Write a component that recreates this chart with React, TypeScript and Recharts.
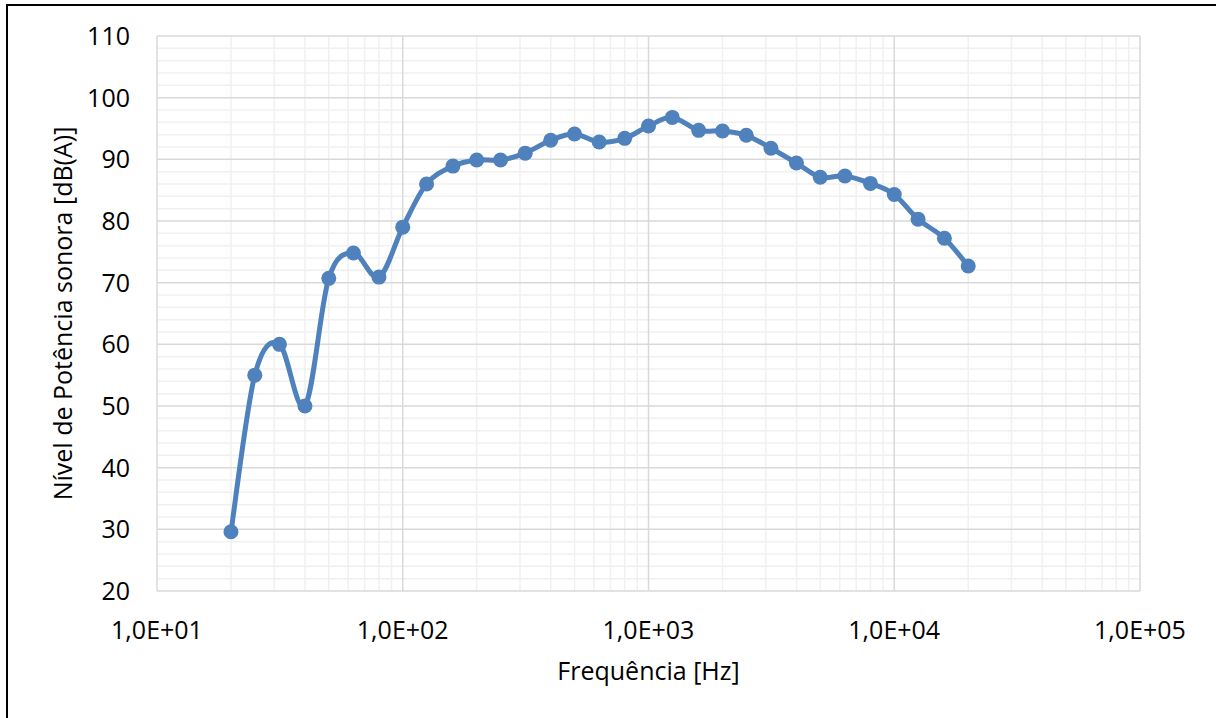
import React from 'react';
import { LineChart, Line, XAxis, YAxis, ReferenceLine } from 'recharts';

const freqs = [20, 25, 31.5, 40, 50, 63, 80, 100, 125, 160, 200, 250, 315, 400, 500, 630, 800, 1000, 1250, 1600, 2000, 2500, 3150, 4000, 5000, 6300, 8000, 10000, 12500, 16000, 20000];
const levels = [29.6, 55.0, 60.0, 50.0, 70.7, 74.8, 70.9, 79.0, 86.0, 88.9, 89.9, 89.9, 91.0, 93.1, 94.1, 92.8, 93.4, 95.4, 96.8, 94.7, 94.6, 93.9, 91.8, 89.4, 87.1, 87.3, 86.1, 84.3, 80.3, 77.2, 72.7];

const xTicks = [10, 100, 1000, 10000, 100000];
const xTickLabels = ['1,0E+01', '1,0E+02', '1,0E+03', '1,0E+04', '1,0E+05'];
const yTicks = [20, 30, 40, 50, 60, 70, 80, 90, 100, 110];
const yMinor = [22, 24, 26, 28, 32, 34, 36, 38, 42, 44, 46, 48, 52, 54, 56, 58, 62, 64, 66, 68, 72, 74, 76, 78, 82, 84, 86, 88, 92, 94, 96, 98, 102, 104, 106, 108];
const xMinorMultipliers = [2, 3, 4, 5, 6, 7, 8, 9];
const decades = [10, 100, 1000, 10000];

const data = freqs.map((f, i) => ({ f, v: levels[i] }));
const xMinor = decades.flatMap((d) => xMinorMultipliers.map((m) => m * d));

// Excel-like smoothed curve (Catmull-Rom style Bezier)
function excelCurve(context: any) {
  let pts: number[][] = [];
  return {
    areaStart() {},
    areaEnd() {},
    lineStart() {
      pts = [];
    },
    point(x: number, y: number) {
      pts.push([+x, +y]);
    },
    lineEnd() {
      const n = pts.length;
      if (!n) return;
      context.moveTo(pts[0][0], pts[0][1]);
      for (let i = 0; i < n - 1; i++) {
        const p0 = pts[Math.max(i - 1, 0)];
        const p1 = pts[i];
        const p2 = pts[i + 1];
        const p3 = pts[Math.min(i + 2, n - 1)];
        const c1x = p1[0] + (p2[0] - p0[0]) / 6;
        const c1y = p1[1] + (p2[1] - p0[1]) / 6;
        const c2x = p2[0] - (p3[0] - p1[0]) / 6;
        const c2y = p2[1] - (p3[1] - p1[1]) / 6;
        context.bezierCurveTo(c1x, c1y, c2x, c2y, p2[0], p2[1]);
      }
    },
  };
}

const FONT = '"Open Sans", sans-serif';
const LINE_COLOR = '#4f81bd';

export default function App() {
  return (
    <div style={{ position: 'absolute', left: 0, top: 0, width: 1216, height: 718, overflow: 'hidden', background: '#fff' }}>
      <div
        style={{
          position: 'absolute',
          left: 6,
          top: 4,
          width: 1210,
          height: 714,
          borderLeft: '2px solid #000',
          borderTop: '2px solid #000',
          boxSizing: 'border-box',
        }}
      />
      <div style={{ position: 'absolute', left: 0, top: 0 }}>
        <LineChart width={1216} height={718} data={data} margin={{ top: 36, right: 76, bottom: 32, left: 0 }}>
          <XAxis
            dataKey="f"
            type="number"
            scale="log"
            domain={[10, 100000]}
            ticks={xTicks}
            allowDataOverflow
            axisLine={false}
            tickLine={false}
            tickSize={0}
            tickMargin={30}
            height={95}
            interval={0}
            tickFormatter={(v: number) => xTickLabels[xTicks.indexOf(v)] ?? ''}
            tick={{ fill: '#000', fontSize: 25, fontFamily: FONT }}
            label={{
              value: 'Frequência [Hz]',
              position: 'insideBottom',
              offset: 6,
              style: { fill: '#000', fontSize: 25, fontFamily: FONT },
            }}
          />
          <YAxis
            dataKey="v"
            type="number"
            domain={[20, 110]}
            ticks={yTicks}
            interval={0}
            axisLine={false}
            tickLine={false}
            tickSize={0}
            tickMargin={27}
            width={157}
            tick={{ fill: '#000', fontSize: 25, fontFamily: FONT }}
            label={{
              content: (props: any) => {
                const vb = props.viewBox || {};
                const cx = 62;
                const cy = vb.y + vb.height / 2;
                return (
                  <text
                    x={cx}
                    y={cy}
                    transform={`rotate(-90, ${cx}, ${cy})`}
                    textAnchor="middle"
                    dominantBaseline="central"
                    style={{ fill: '#000', fontSize: 25, fontFamily: FONT }}
                  >
                    Nível de Potência sonora [dB(A)]
                  </text>
                );
              },
            }}
          />
          {yMinor.map((y) => (
            <ReferenceLine key={`ym${y}`} y={y} stroke="#f0f0f0" strokeWidth={1.5} />
          ))}
          {xMinor.map((x) => (
            <ReferenceLine key={`xm${x}`} x={x} stroke="#f0f0f0" strokeWidth={1.5} />
          ))}
          {yTicks.map((y) => (
            <ReferenceLine key={`yM${y}`} y={y} stroke="#d9d9d9" strokeWidth={1.5} />
          ))}
          {xTicks.map((x) => (
            <ReferenceLine key={`xM${x}`} x={x} stroke="#d9d9d9" strokeWidth={1.5} />
          ))}
          <Line
            dataKey="v"
            type={excelCurve as any}
            stroke={LINE_COLOR}
            strokeWidth={5}
            dot={{ r: 7.5, fill: LINE_COLOR, stroke: LINE_COLOR, strokeWidth: 0 }}
            isAnimationActive={false}
          />
        </LineChart>
      </div>
    </div>
  );
}
